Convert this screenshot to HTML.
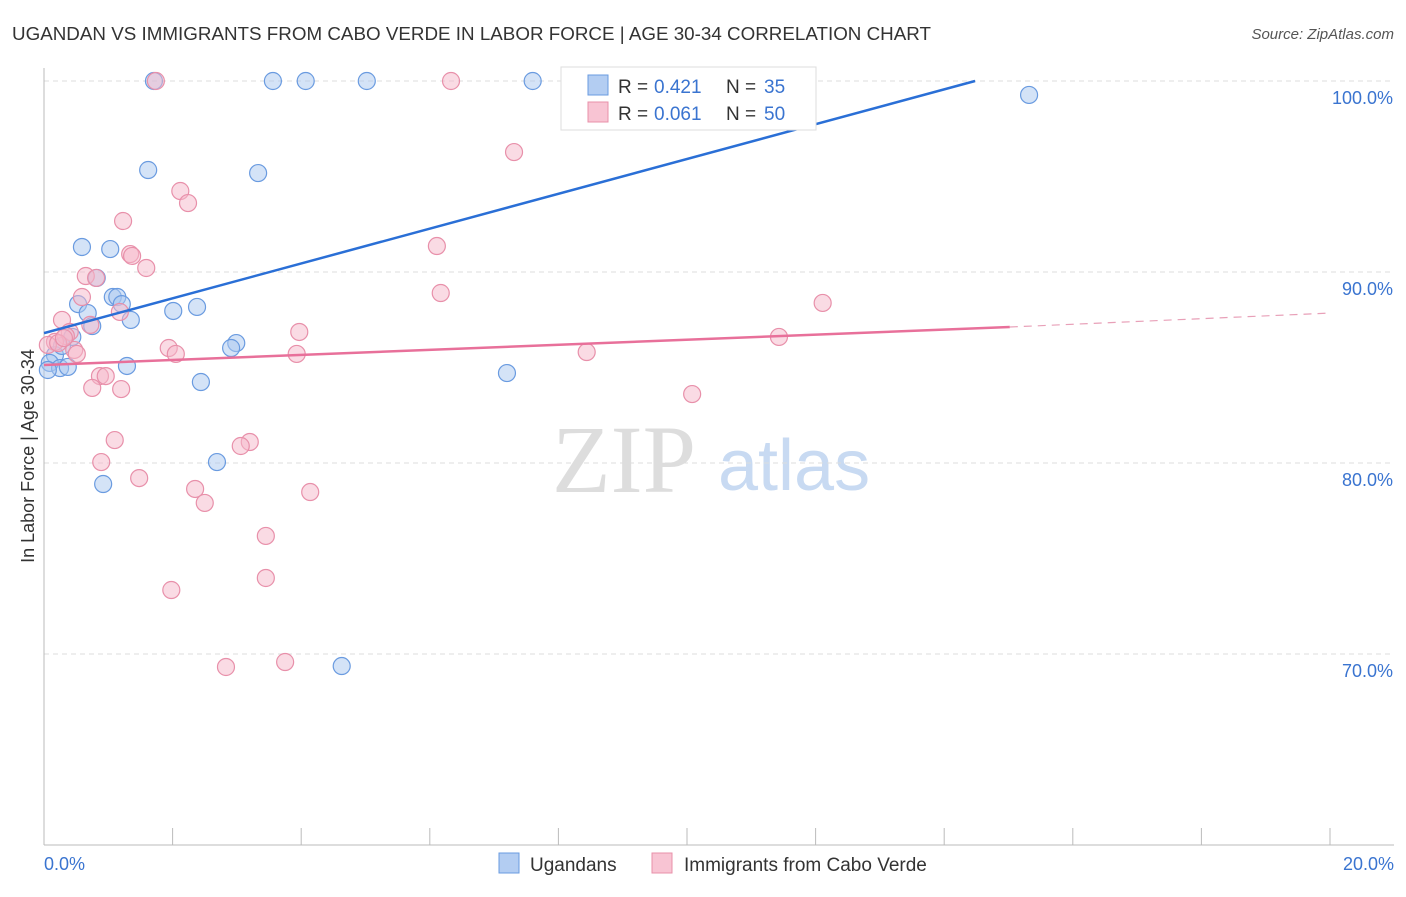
<!DOCTYPE html>
<html><head><meta charset="utf-8"><style>
body{margin:0;background:#fff;font-family:"Liberation Sans",sans-serif}
</style></head><body>
<svg width="1406" height="892" viewBox="0 0 1406 892" id="chart">
<text x="12" y="40" font-size="18" fill="#333" textLength="919" lengthAdjust="spacingAndGlyphs">UGANDAN VS IMMIGRANTS FROM CABO VERDE IN LABOR FORCE | AGE 30-34 CORRELATION CHART</text>
<text x="1394" y="39" font-size="15" fill="#555" font-style="italic" text-anchor="end">Source: ZipAtlas.com</text>
<g>
<text x="552" y="492" font-size="96" fill="#ddd" font-family="Liberation Serif,serif">ZIP</text>
<text x="718" y="490" font-size="72" fill="#c8daf2">atlas</text>
</g>
<g id="grid"></g><g id="axes"></g><g id="marks"></g>
<text transform="translate(34,456) rotate(-90)" font-size="18" fill="#333" text-anchor="middle">In Labor Force | Age 30-34</text>
<text x="44" y="870" font-size="18" fill="#3a74d0">0.0%</text>
<text x="1394" y="870" font-size="18" fill="#3a74d0" text-anchor="end">20.0%</text>
<g>
<rect x="561" y="67" width="255" height="63" fill="#fff" stroke="#ddd"/>
<rect x="588" y="75" width="20" height="20" fill="#b3cdf2" stroke="#6a9be0"/>
<rect x="588" y="102" width="20" height="20" fill="#f8c4d3" stroke="#e890aa"/>
<text x="618" y="93" font-size="19" fill="#333">R =</text>
<text x="654" y="93" font-size="19" fill="#3a74d0">0.421</text>
<text x="726" y="93" font-size="19" fill="#333">N =</text>
<text x="764" y="93" font-size="19" fill="#3a74d0">35</text>
<text x="618" y="120" font-size="19" fill="#333">R =</text>
<text x="654" y="120" font-size="19" fill="#3a74d0">0.061</text>
<text x="726" y="120" font-size="19" fill="#333">N =</text>
<text x="764" y="120" font-size="19" fill="#3a74d0">50</text>
</g>
<g>
<rect x="499" y="853" width="20" height="20" fill="#b3cdf2" stroke="#6a9be0"/>
<text x="530" y="871" font-size="19" fill="#333">Ugandans</text>
<rect x="652" y="853" width="20" height="20" fill="#f8c4d3" stroke="#e890aa"/>
<text x="684" y="871" font-size="19" fill="#333">Immigrants from Cabo Verde</text>
</g>
</svg>
<script>
const yTicks=[100,90,80,70];
const xTickVals=[2,4,6,8,10,12,14,16,18,20];
const blueX=[1.71,3.56,4.07,5.02,7.60,15.32,1.62,3.33,0.59,1.03,0.82,0.53,1.07,1.14,1.21,0.68,1.35,0.75,2.01,2.38,2.99,2.91,0.17,0.09,0.25,0.37,1.29,2.44,7.20,2.69,0.92,4.63,0.06,0.44,0.28];
const blueY=[100,100,100,100,100,99.27,95.34,95.18,91.31,91.20,89.69,88.32,88.69,88.69,88.32,87.85,87.49,87.17,87.96,88.17,86.28,86.02,85.65,85.24,84.97,85.03,85.08,84.24,84.71,80.05,78.90,69.37,84.87,86.60,86.13];
const pinkX=[1.74,6.33,7.31,1.23,2.12,2.24,1.34,1.37,1.59,0.65,0.81,6.11,0.59,1.18,0.28,0.40,0.34,0.72,3.97,6.17,12.11,0.17,0.47,0.51,1.94,2.05,3.93,8.44,11.43,0.87,0.96,0.75,1.20,10.08,1.10,0.89,3.20,3.06,1.48,2.35,2.50,4.14,3.45,3.45,1.98,2.83,3.75,0.06,0.22,0.31];
const pinkY=[100,100,96.28,92.67,94.24,93.61,90.94,90.84,90.21,89.79,89.69,91.36,88.69,87.91,87.49,86.86,86.65,87.23,86.86,88.90,88.38,86.34,85.92,85.71,86.02,85.71,85.71,85.81,86.60,84.55,84.55,83.93,83.87,83.61,81.20,80.05,81.10,80.89,79.21,78.64,77.91,78.48,76.18,73.98,73.35,69.32,69.58,86.18,86.28,86.54];
const blueTrendX=[0,14.48], blueTrendY=[86.8,100];
const pinkTrendX=[0,15.02,20], pinkTrendY=[85.13,87.12,87.85];

const NS='http://www.w3.org/2000/svg';
const sx=v=>44+v*1286/20, sy=v=>81+(100-v)*19.1;
function mk(tag,attrs,parent){const e=document.createElementNS(NS,tag);for(const k in attrs)e.setAttribute(k,attrs[k]);parent.appendChild(e);return e;}
const grid=document.getElementById('grid'),axes=document.getElementById('axes'),marks=document.getElementById('marks');
yTicks.forEach(t=>{
  const l=mk('line',{x1:44,x2:1394,y1:sy(t),y2:sy(t),stroke:'#ddd','stroke-dasharray':'5,4'},grid);
  
  
  const tx=mk('text',{x:1393,y:sy(t)+23,'font-size':18,fill:'#3a74d0','text-anchor':'end'},grid);
  tx.textContent=t.toFixed(1)+'%';
  
  
});
const ax=mk('line',{x1:44,x2:44,y1:68,y2:845,stroke:'#bbb'},axes);


const bx=mk('line',{x1:44,x2:1394,y1:845,y2:845,stroke:'#bbb'},axes);


xTickVals.forEach(t=>{
  const x=sx(t);
  const tk=mk('line',{x1:x,x2:x,y1:828,y2:845,stroke:'#bbb'},axes);
  
  
});
function dots(X,Y,fill,stroke,name){
  X.forEach((v,i)=>{
    const c=mk('circle',{cx:sx(v),cy:sy(Y[i]),r:8.5,fill:fill,'fill-opacity':0.5,stroke:stroke,'stroke-width':1.2},marks);
    
    
  });
}
dots(blueX,blueY,'#a9c8f0','#6a9be0','ugandan-point');
dots(pinkX,pinkY,'#f5b8ca','#e890aa','cabo-verde-point');
const bl=mk('line',{x1:sx(blueTrendX[0]),y1:sy(blueTrendY[0]),x2:sx(blueTrendX[1]),y2:sy(blueTrendY[1]),stroke:'#2a6fd6','stroke-width':2.5},marks);


const pl=mk('line',{x1:sx(pinkTrendX[0]),y1:sy(pinkTrendY[0]),x2:sx(pinkTrendX[1]),y2:sy(pinkTrendY[1]),stroke:'#e8709a','stroke-width':2.5},marks);


const pd=mk('line',{x1:sx(pinkTrendX[1]),y1:sy(pinkTrendY[1]),x2:sx(pinkTrendX[2]),y2:sy(pinkTrendY[2]),stroke:'#e8a0b8','stroke-width':1.2,'stroke-dasharray':'8,6'},marks);


</script>
</body></html>
